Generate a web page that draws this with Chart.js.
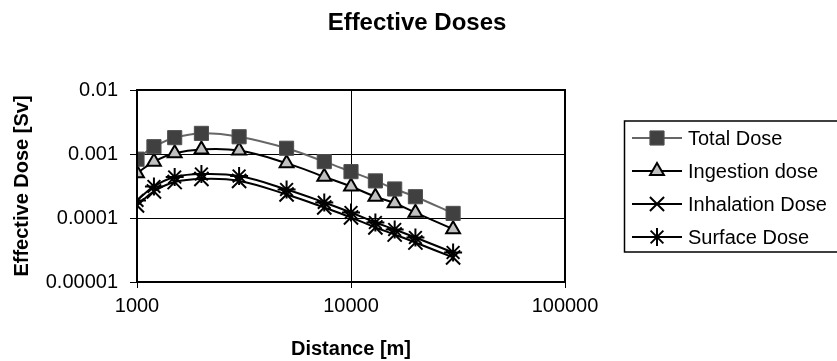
<!DOCTYPE html>
<html>
<head>
<meta charset="utf-8">
<script src="https://cdn.jsdelivr.net/npm/chart.js@4"></script>
<style>
  html, body { margin: 0; padding: 0; background: #fff; }
  #wrap { width: 837px; height: 361px; }
</style>
</head>
<body>
<div id="wrap"><canvas id="myChart"></canvas></div>
<script>
// 数据
const distances = [1000, 1200, 1500, 2000, 3000, 5000, 7500, 10000, 13000, 16000, 20000, 30000];
const totalDose = [0.00083, 0.0013, 0.0018, 0.0021, 0.00186, 0.00123, 0.00076, 0.00053, 0.00038, 0.000284, 0.000215, 0.000118];
const ingestionDose = [0.0005, 0.00076, 0.00103, 0.00118, 0.00113, 0.00072, 0.00044, 0.00031, 0.000215, 0.00017, 0.000121, 0.000067];
const inhalationDose = [0.000157, 0.00026, 0.000365, 0.000407, 0.000379, 0.000233, 0.000146, 0.000102, 0.0000711, 0.0000552, 0.0000414, 0.0000242];
const surfaceDose = [0.000188, 0.000311, 0.000437, 0.000487, 0.000453, 0.000279, 0.000175, 0.000122, 0.0000851, 0.0000661, 0.0000496, 0.0000289];
const xTicks = [1000, 10000, 100000];
const yTicks = [0.00001, 0.0001, 0.001, 0.01];
const seriesNames = ["Total Dose", "Ingestion dose", "Inhalation Dose", "Surface Dose"];
const chartTitle = "Effective Doses";

const FONT = "'Liberation Sans', Arial, sans-serif";

function toPoints(arr) {
  return arr.map((v, i) => ({ x: distances[i], y: v }));
}

// 标题 + 图例 + 绘图区边框
const frameAndLegend = {
  id: "frameAndLegend",
  afterDraw(chart) {
    const ctx = chart.ctx;
    const a = chart.chartArea;
    ctx.save();
    ctx.strokeStyle = "#000";
    ctx.lineWidth = 2;
    ctx.strokeRect(a.left, a.top, a.right - a.left, a.bottom - a.top);

    // 标题
    ctx.fillStyle = "#000";
    ctx.font = "bold 24px " + FONT;
    ctx.textAlign = "center";
    ctx.textBaseline = "middle";
    ctx.fillText(chartTitle, 417, 23);

    // 图例框
    ctx.lineWidth = 1.5;
    ctx.strokeRect(624.5, 121, 230, 131);
    ctx.font = "20px " + FONT;
    ctx.textBaseline = "middle";
    ctx.textAlign = "left";
    const rowY = [138, 171, 204, 237];
    chart.data.datasets.forEach((ds, i) => {
      const y = rowY[i];
      ctx.strokeStyle = ds.borderColor;
      ctx.lineWidth = 2;
      ctx.beginPath();
      ctx.moveTo(632, y);
      ctx.lineTo(682, y);
      ctx.stroke();
      ctx.fillStyle = ds.pointBackgroundColor;
      ctx.strokeStyle = ds.pointBorderColor;
      ctx.lineWidth = ds.pointBorderWidth;
      Chart.helpers.drawPoint(ctx, {
        pointStyle: ds.pointStyle,
        radius: ds.pointRadius,
        borderWidth: ds.pointBorderWidth,
        rotation: 0
      }, 657, y);
      ctx.fillStyle = "#000";
      ctx.fillText(ds.label, 688, y + 1);
    });
    ctx.restore();
  }
};

const chartCtx = document.getElementById("myChart").getContext("2d");
new Chart(chartCtx, {
  type: "line",
  plugins: [frameAndLegend],
  data: {
    datasets: [
      {
        label: seriesNames[0],
        data: toPoints(totalDose),
        borderColor: "#666666",
        borderWidth: 2,
        pointStyle: "rect",
        pointRadius: 10,
        pointBackgroundColor: "#404040",
        pointBorderColor: "#505050",
        pointBorderWidth: 1,
        tension: 0.4,
      },
      {
        label: seriesNames[1],
        data: toPoints(ingestionDose),
        borderColor: "#000000",
        borderWidth: 2,
        pointStyle: "triangle",
        pointRadius: 8,
        pointBackgroundColor: "#c0c0c0",
        pointBorderColor: "#000000",
        pointBorderWidth: 2,
        tension: 0.4,
      },
      {
        label: seriesNames[2],
        data: toPoints(inhalationDose),
        borderColor: "#000000",
        borderWidth: 2,
        pointStyle: "crossRot",
        pointRadius: 10,
        pointBackgroundColor: "#000000",
        pointBorderColor: "#000000",
        pointBorderWidth: 2,
        tension: 0.4,
      },
      {
        label: seriesNames[3],
        data: toPoints(surfaceDose),
        borderColor: "#000000",
        borderWidth: 2,
        pointStyle: "star",
        pointRadius: 9,
        pointBackgroundColor: "#000000",
        pointBorderColor: "#000000",
        pointBorderWidth: 2,
        tension: 0.4,
      },
    ],
  },
  options: {
    responsive: true,
    maintainAspectRatio: false,
    animation: false,
    layout: { padding: { left: 0, right: 272, top: 90, bottom: 0 } },
    plugins: {
      legend: { display: false },
      tooltip: { enabled: false },
      title: { display: false },
    },
    scales: {
      x: {
        type: "logarithmic",
        min: 1000,
        max: 100000,
        afterBuildTicks: (scale) => { scale.ticks = xTicks.map((v) => ({ value: v })); },
        afterFit: (scale) => { scale.height = 79; },
        ticks: {
          color: "#000",
          font: { family: FONT, size: 20 },
          padding: 6,
          maxRotation: 0,
          autoSkip: false,
          callback: (v) => String(v),
        },
        grid: { color: "#000", lineWidth: 1, tickLength: 6 },
        border: { display: false },
        title: {
          display: true,
          text: "Distance [m]",
          color: "#000",
          font: { family: FONT, size: 20, weight: "bold" },
          padding: { top: 0, bottom: 0 },
        },
      },
      y: {
        type: "logarithmic",
        min: 0.00001,
        max: 0.01,
        afterBuildTicks: (scale) => { scale.ticks = yTicks.map((v) => ({ value: v })); },
        afterFit: (scale) => { scale.width = 137; },
        ticks: {
          color: "#000",
          font: { family: FONT, size: 20 },
          padding: 12,
          autoSkip: false,
          callback: (v) => v.toFixed(Math.round(-Math.log10(v))),
        },
        grid: { color: "#000", lineWidth: 1, tickLength: 7 },
        border: { display: false },
        title: {
          display: true,
          text: "Effective Dose [Sv]",
          color: "#000",
          font: { family: FONT, size: 20, weight: "bold" },
          padding: { top: 10, bottom: 0 },
        },
      },
    },
  },
});
</script>
</body>
</html>
